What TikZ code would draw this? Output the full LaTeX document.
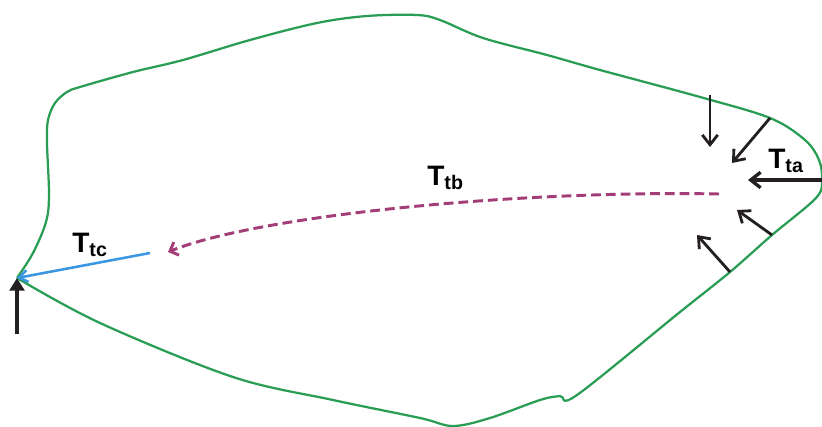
\documentclass[tikz,border=0pt]{standalone}
\usepackage{fontspec}
\setmainfont{Liberation Sans}
\usepackage{tikz}
\usetikzlibrary{arrows.meta}
\definecolor{outlinegreen}{HTML}{2A9D55}
\definecolor{tcblue}{HTML}{3A96E0}
\definecolor{tbmagenta}{HTML}{A33D78}
\definecolor{forceblack}{HTML}{231F20}
\tikzset{outline/.style = {draw=outlinegreen, line width=1.6pt, line join=round}}
\tikzset{force/.style = {draw=forceblack, line width=2pt, -{Straight Barb[length=7pt,width=11pt]}}}
\tikzset{tclabel/.style = {anchor=base west, inner sep=0pt, font=\fontsize{20}{24}\selectfont\bfseries}}
\newcommand{\tsub}[1]{T\raisebox{-3pt}{\fontsize{14}{14}\selectfont\bfseries #1}}

\begin{document}
\begin{tikzpicture}[x=0.025cm, y=-0.025cm]
\useasboundingbox (0,0) rectangle (822,427);
% body outline
\draw[outline] plot[smooth, tension=0.55] coordinates {
(17,278) (33,253) (46,222) (49,195) (47,143) (48,120) (55,103)
(67,92) (80,87) (133,72) (183,60) (250,40) (317,23) (367,16) (417,15)
(440,20) (483,38) (547,55) (600,70) (700,97) (770,118) (805,140)
(819,160) (822,180) (816,198) (772,235) (730,272) (680,312) (577,395)
(560,396) (540,400) (490,418) (453,426) (420,418) (333,400) (233,377)
(100,323) (17,278)};
%
\coordinate (tip) at (17,278);
\coordinate (up0) at (17,334);
\coordinate (c0) at (150,253);
\coordinate (b0) at (719,194);
\coordinate (b1) at (168,252);
\coordinate (a1) at (710,95);  \coordinate (e1) at (710,147);
\coordinate (a2) at (770,118); \coordinate (e2) at (732,163);
\coordinate (a3) at (822,180); \coordinate (e3) at (748,180);
\coordinate (a4) at (772,235); \coordinate (e4) at (737,210);
\coordinate (a5) at (730,272); \coordinate (e5) at (697,235);
% forces on the right
\foreach \i in {1,2,4,5}
  \draw[force] (a\i) -- (e\i);
\draw[force, line width=2.4pt] (a3) -- (e3);
% left tip
\draw[draw=forceblack, line width=3.5pt, -{Triangle[length=9pt,width=10.5pt]}] (up0) -- (tip);
\draw[draw=tcblue, line width=1.8pt, -{Straight Barb[length=6pt,width=8.5pt]}] (c0) -- (tip);
\draw[draw=tbmagenta, line width=2.1pt, dash pattern=on 7pt off 3.5pt,
  -{Straight Barb[length=5pt,width=10pt]}]
  (b0) .. controls (520,190) and (260,215) .. (b1);
% labels
\node[tclabel] (ta) at (768,168) {\tsub{ta}};
\node[tclabel] (tb) at (427,185) {\tsub{tb}};
\node[tclabel] (tc) at (72,252) {\tsub{tc}};
\end{tikzpicture}
\end{document}
